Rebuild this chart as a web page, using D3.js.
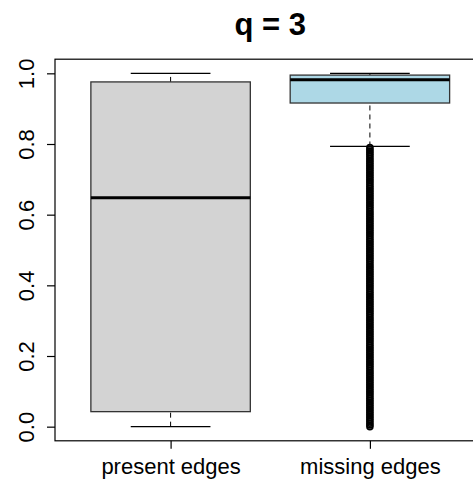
<!DOCTYPE html>
<html>
<head>
<meta charset="utf-8">
<script src="https://cdn.jsdelivr.net/npm/d3@7/dist/d3.min.js"></script>
<style>
  html, body { margin: 0; padding: 0; background: #fff; }
  svg { display: block; }
  text { font-family: "Liberation Sans", Arial, Helvetica, sans-serif; }
</style>
</head>
<body>
<svg id="chart" width="473" height="480"></svg>
<script>
// Box-plot summary per group
const categories  = ["present edges", "missing edges"];
const whiskerLow  = [0.000, 0.793];
const q1          = [0.0425, 0.916];
const medians     = [0.648, 0.982];
const q3          = [0.9757, 0.995];
const whiskerHigh = [1.000, 1.000];
const boxFills    = ["#D3D3D3", "#ADD8E6"];

// Outlying values below the lower whisker of "missing edges"
const outliersMissing = [
  0.000, 0.005, 0.010, 0.015, 0.020, 0.025, 0.030, 0.035, 0.040, 0.045,
  0.050, 0.055, 0.060, 0.065, 0.070, 0.075, 0.080, 0.085, 0.090, 0.095,
  0.100, 0.105, 0.110, 0.115, 0.120, 0.125, 0.130, 0.135, 0.140, 0.145,
  0.150, 0.155, 0.160, 0.165, 0.170, 0.175, 0.180, 0.185, 0.190, 0.195,
  0.200, 0.205, 0.210, 0.215, 0.220, 0.225, 0.230, 0.235, 0.240, 0.245,
  0.250, 0.255, 0.260, 0.265, 0.270, 0.275, 0.280, 0.285, 0.290, 0.295,
  0.300, 0.305, 0.310, 0.315, 0.320, 0.325, 0.330, 0.335, 0.340, 0.345,
  0.350, 0.355, 0.360, 0.365, 0.370, 0.375, 0.380, 0.385, 0.390, 0.395,
  0.400, 0.405, 0.410, 0.415, 0.420, 0.425, 0.430, 0.435, 0.440, 0.445,
  0.450, 0.455, 0.460, 0.465, 0.470, 0.475, 0.480, 0.485, 0.490, 0.495,
  0.500, 0.505, 0.510, 0.515, 0.520, 0.525, 0.530, 0.535, 0.540, 0.545,
  0.550, 0.555, 0.560, 0.565, 0.570, 0.575, 0.580, 0.585, 0.590, 0.595,
  0.600, 0.605, 0.610, 0.615, 0.620, 0.625, 0.630, 0.635, 0.640, 0.645,
  0.650, 0.655, 0.660, 0.665, 0.670, 0.675, 0.680, 0.685, 0.690, 0.695,
  0.700, 0.705, 0.710, 0.715, 0.720, 0.725, 0.730, 0.735, 0.740, 0.745,
  0.750, 0.755, 0.760, 0.765, 0.770, 0.775, 0.780, 0.785, 0.790
];

const yTicks = [0.0, 0.2, 0.4, 0.6, 0.8, 1.0];
const yTickLabels = ["0.0", "0.2", "0.4", "0.6", "0.8", "1.0"];
const title = "q = 3";

const svg = d3.select("#chart");

// Plot region (right side runs past the canvas edge)
const plot = { left: 55, right: 485.5, top: 59.2, bottom: 440.8 };

const x = d3.scaleLinear().domain([0.42, 2.58]).range([plot.left, plot.right]);
const y = d3.scaleLinear().domain([-0.04, 1.04]).range([plot.bottom, plot.top]);

const boxHalf = 0.4;     // box width = 0.8 units
const stapleHalf = 0.2;  // staple width = 0.4 units

const groups = categories.map((c, i) => ({
  name: c, pos: i + 1,
  lo: whiskerLow[i], q1: q1[i], med: medians[i], q3: q3[i], hi: whiskerHigh[i],
  fill: boxFills[i]
}));

const g = svg.append("g");

// Whiskers (dashed)
g.selectAll("line.wlo").data(groups).join("line")
  .attr("x1", d => x(d.pos)).attr("x2", d => x(d.pos))
  .attr("y1", d => y(d.lo)).attr("y2", d => y(d.q1))
  .attr("stroke", "#000").attr("stroke-width", 1).attr("stroke-dasharray", "5,4");
g.selectAll("line.whi").data(groups).join("line")
  .attr("x1", d => x(d.pos)).attr("x2", d => x(d.pos))
  .attr("y1", d => y(d.q3)).attr("y2", d => y(d.hi))
  .attr("stroke", "#000").attr("stroke-width", 1).attr("stroke-dasharray", "5,4");

// Staples
["lo", "hi"].forEach(k => {
  g.selectAll("line.staple-" + k).data(groups).join("line")
    .attr("x1", d => x(d.pos - stapleHalf)).attr("x2", d => x(d.pos + stapleHalf))
    .attr("y1", d => y(d[k])).attr("y2", d => y(d[k]))
    .attr("stroke", "#000").attr("stroke-width", 1.2);
});

// Boxes
g.selectAll("rect.box").data(groups).join("rect")
  .attr("x", d => x(d.pos - boxHalf))
  .attr("width", d => x(d.pos + boxHalf) - x(d.pos - boxHalf))
  .attr("y", d => y(d.q3))
  .attr("height", d => y(d.q1) - y(d.q3))
  .attr("fill", d => d.fill)
  .attr("stroke", "#333").attr("stroke-width", 1.3);

// Medians
g.selectAll("line.median").data(groups).join("line")
  .attr("x1", d => x(d.pos - boxHalf)).attr("x2", d => x(d.pos + boxHalf))
  .attr("y1", d => y(d.med)).attr("y2", d => y(d.med))
  .attr("stroke", "#000").attr("stroke-width", 3);

// Outliers (open circles)
g.selectAll("circle.out").data(outliersMissing).join("circle")
  .attr("cx", x(2)).attr("cy", d => y(d)).attr("r", 2.9)
  .attr("fill", "none").attr("stroke", "#000").attr("stroke-width", 1.7);

// Frame around the plot region
svg.append("rect")
  .attr("x", plot.left).attr("y", plot.top)
  .attr("width", plot.right - plot.left).attr("height", plot.bottom - plot.top)
  .attr("fill", "none").attr("stroke", "#000").attr("stroke-width", 1.2);

// Y axis with rotated labels
const yAxis = svg.append("g")
  .attr("transform", `translate(${plot.left},0)`)
  .call(d3.axisLeft(y).tickValues(yTicks).tickFormat((d, i) => yTickLabels[i])
    .tickSize(8).tickSizeOuter(0));
yAxis.select(".domain").remove();
yAxis.selectAll(".tick line").attr("stroke", "#000").attr("stroke-width", 1.2);
yAxis.selectAll(".tick text")
  .attr("x", null).attr("dy", null)
  .attr("transform", "translate(-20.7,0) rotate(-90)")
  .attr("text-anchor", "middle")
  .attr("fill", "#000")
  .style("font-size", "22px")
  .style("font-family", "'Liberation Sans', Arial, Helvetica, sans-serif");

// X axis with category labels
const xAxis = svg.append("g")
  .attr("transform", `translate(0,${plot.bottom})`)
  .call(d3.axisBottom(x).tickValues([1, 2]).tickFormat((d, i) => categories[i])
    .tickSize(8).tickSizeOuter(0));
xAxis.select(".domain").remove();
xAxis.selectAll(".tick line").attr("stroke", "#000").attr("stroke-width", 1.2);
xAxis.selectAll(".tick text")
  .attr("y", 33.2).attr("dy", null)
  .attr("fill", "#000")
  .style("font-size", "22px")
  .style("font-family", "'Liberation Sans', Arial, Helvetica, sans-serif");

// Title
svg.append("text")
  .attr("x", (plot.left + plot.right) / 2).attr("y", 35)
  .attr("text-anchor", "middle")
  .style("font-size", "31px").style("font-weight", "bold")
  .text(title);
</script>
</body>
</html>
